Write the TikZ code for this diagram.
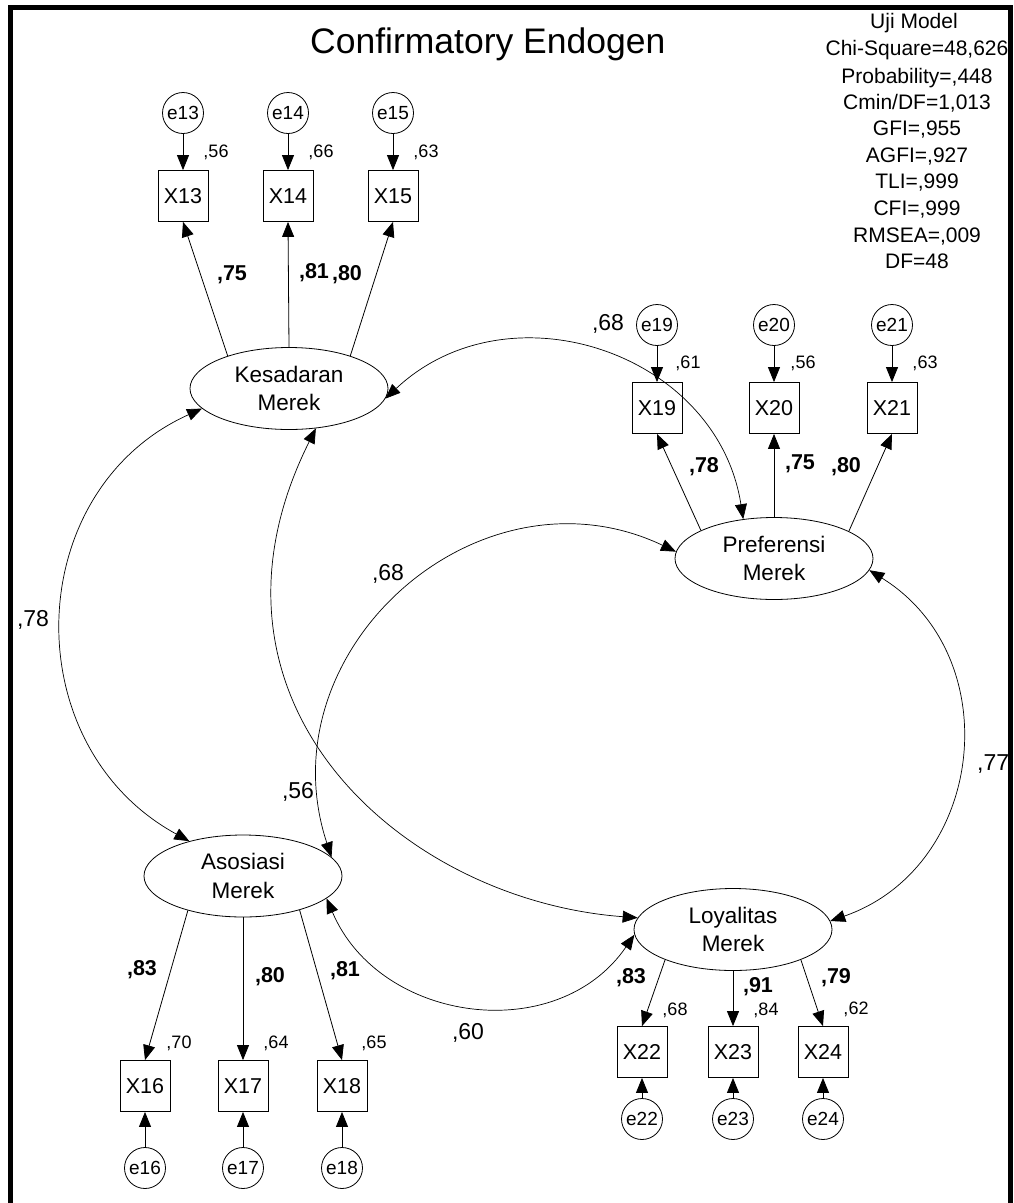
\documentclass[tikz,border=0pt]{standalone}
\usepackage{fontspec}
\setmainfont{Liberation Sans}
\usetikzlibrary{arrows.meta,shapes.geometric}
\begin{document}
\begin{tikzpicture}[x=1pt,y=1pt,
  every node/.style={inner sep=0pt},
  latent/.style={draw, ellipse, minimum width=198pt, minimum height=82pt, align=center,
                 font=\fontsize{22.5}{28.5}\selectfont, line width=0.8pt},
  obs/.style={draw, rectangle, minimum width=50pt, minimum height=51pt,
              font=\fontsize{21.5}{25}\selectfont, line width=0.8pt},
  err/.style={draw, circle, minimum size=41pt, font=\fontsize{19}{22}\selectfont, line width=0.8pt},
  tip/.tip={Triangle[length=15pt,width=12pt]},
  load/.style={-tip, line width=0.8pt},
  cov/.style={tip-tip, line width=0.7pt},
  sq/.style={font=\fontsize{18}{20}\selectfont, anchor=base},
  ld/.style={font=\bfseries\fontsize{21.5}{25}\selectfont, anchor=base},
  cv/.style={font=\fontsize{23}{26}\selectfont, anchor=base},
  fit/.style={font=\fontsize{21}{25}\selectfont, anchor=base},
]
\useasboundingbox (0,0) rectangle (1013,-1203);

% title and fit statistics
\node[anchor=base west, font=\fontsize{35.5}{40}\selectfont] (title) at (310,-53) {Confirmatory Endogen};
\node[fit] (s1)  at (914,-28)  {Uji Model};
\node[fit] (s2)  at (917,-55)  {Chi-Square=48,626};
\node[fit] (s3)  at (917,-83)  {Probability=,448};
\node[fit] (s4)  at (917,-109) {Cmin/DF=1,013};
\node[fit] (s5)  at (917,-135) {GFI=,955};
\node[fit] (s6)  at (917,-162) {AGFI=,927};
\node[fit] (s7)  at (917,-188) {TLI=,999};
\node[fit] (s8)  at (917,-215) {CFI=,999};
\node[fit] (s9)  at (917,-242) {RMSEA=,009};
\node[fit] (s10) at (917,-268) {DF=48};

% latent constructs
\node[latent] (kes)  at (289,-388.5) {Kesadaran\\Merek};
\node[latent] (pref) at (774,-558.5) {Preferensi\\Merek};
\node[latent] (aso)  at (243,-876)   {Asosiasi\\Merek};
\node[latent] (loy)  at (733,-929.5) {Loyalitas\\Merek};

% indicators
\node[obs] (x13) at (183,-196) {X13};
\node[obs] (x14) at (288,-196) {X14};
\node[obs] (x15) at (393,-196) {X15};
\node[obs] (x19) at (657,-408) {X19};
\node[obs] (x20) at (774,-408) {X20};
\node[obs] (x21) at (892,-408) {X21};
\node[obs] (x16) at (145,-1086) {X16};
\node[obs] (x17) at (243,-1086) {X17};
\node[obs] (x18) at (342,-1086) {X18};
\node[obs] (x22) at (642,-1052) {X22};
\node[obs] (x23) at (733,-1052) {X23};
\node[obs] (x24) at (823,-1052) {X24};

% error terms
\node[err] (e13) at (183,-113) {e13};
\node[err] (e14) at (288,-113) {e14};
\node[err] (e15) at (393,-113) {e15};
\node[err] (e19) at (657,-325) {e19};
\node[err] (e20) at (774,-325) {e20};
\node[err] (e21) at (892,-325) {e21};
\node[err] (e16) at (145,-1168) {e16};
\node[err] (e17) at (243,-1168) {e17};
\node[err] (e18) at (342,-1168) {e18};
\node[err] (e22) at (642,-1119) {e22};
\node[err] (e23) at (733,-1119) {e23};
\node[err] (e24) at (823,-1119) {e24};

% error paths
\foreach \e/\x in {e13/x13,e14/x14,e15/x15,e19/x19,e20/x20,e21/x21,
                   e16/x16,e17/x17,e18/x18,e22/x22,e23/x23,e24/x24}
  \draw[load] (\e) -- (\x);

% factor loadings
\draw[load] (kes.152) -- (x13.south);
\draw[load] (kes.90) -- (x14.south);
\draw[load] (kes.28.4) -- (x15.south);
\draw[load] (pref.159.3) -- (x19.south);
\draw[load] (pref.90) -- (x20.south);
\draw[load] (pref.20.7) -- (x21.south);
\draw[load] (aso.212) -- (x16.north);
\draw[load] (aso.-90) -- (x17.north);
\draw[load] (aso.-31.5) -- (x18.north);
\draw[load] (loy.204.5) -- (x22.north);
\draw[load] (loy.-90) -- (x23.north);
\draw[load] (loy.-24.8) -- (x24.north);

% correlations between constructs
\draw[cov] (kes.-6) .. controls +(43.2:169) and +(98.9:169) .. (pref.128.3);
\draw[cov] (kes.193) .. controls +(204.3:199) and +(151.4:199) .. (aso.147);
\draw[cov] (kes.-56) .. controls (180,-700) and (400,-900) .. (loy.173);
\draw[cov] (pref.176) .. controls +(154.6:218) and +(108.3:218) .. (aso.12);
\draw[cov] (aso.-15) .. controls +(293:136) and +(235.6:136) .. (loy.183);
\draw[cov] (pref.-7) .. controls +(-31.9:164) and +(19.2:164) .. (loy.5);

% squared multiple correlations
\node[sq] (r13) at (216,-157) {,56};
\node[sq] (r14) at (321,-157) {,66};
\node[sq] (r15) at (426,-157) {,63};
\node[sq] (r19) at (688,-368) {,61};
\node[sq] (r20) at (803,-368) {,56};
\node[sq] (r21) at (925,-368) {,63};
\node[sq] (r16) at (179,-1048) {,70};
\node[sq] (r17) at (276,-1048) {,64};
\node[sq] (r18) at (374,-1048) {,65};
\node[sq] (r22) at (675,-1015) {,68};
\node[sq] (r23) at (766,-1015) {,84};
\node[sq] (r24) at (856,-1014) {,62};

% standardized loadings
\node[ld] (l13) at (232,-280) {,75};
\node[ld] (l14) at (314,-278) {,81};
\node[ld] (l15) at (347,-280) {,80};
\node[ld] (l19) at (704,-472) {,78};
\node[ld] (l20) at (800,-469) {,75};
\node[ld] (l21) at (846,-472) {,80};
\node[ld] (l16) at (142,-975) {,83};
\node[ld] (l17) at (270,-982) {,80};
\node[ld] (l18) at (345,-976) {,81};
\node[ld] (l22) at (631,-983) {,83};
\node[ld] (l23) at (758,-992) {,91};
\node[ld] (l24) at (836,-983) {,79};

% correlation values
\node[cv] (c1) at (608,-330) {,68};
\node[cv] (c2) at (33,-626) {,78};
\node[cv] (c3) at (388,-580) {,68};
\node[cv] (c4) at (298,-798) {,56};
\node[cv] (c5) at (468,-1039) {,60};
\node[cv, anchor=base west] (c6) at (977,-770) {,77};

% outer frame
\draw[line width=5pt] (10.5,-1203) -- (10.5,-7) -- (1010,-7) -- (1010,-1203);
\end{tikzpicture}
\end{document}
